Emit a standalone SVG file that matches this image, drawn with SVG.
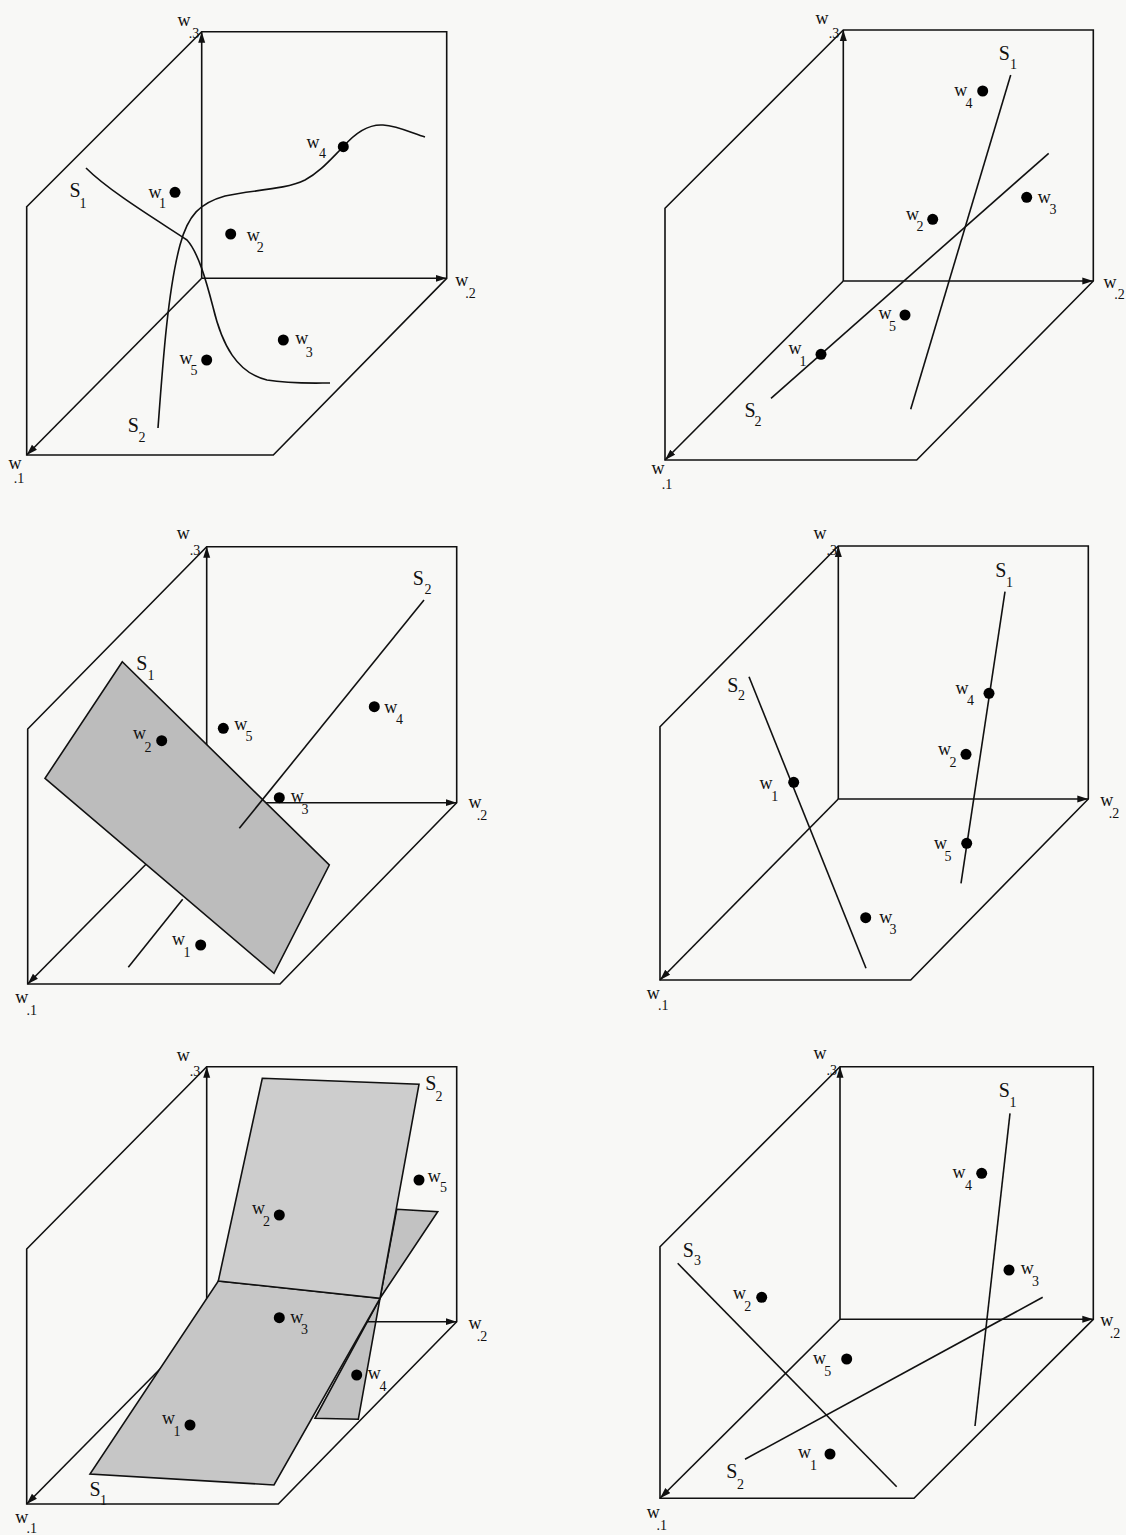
<svg xmlns="http://www.w3.org/2000/svg" width="1126" height="1535" viewBox="0 0 1126 1535">
<style>
.ln{fill:none;stroke:#111;stroke-width:1.6;stroke-linejoin:miter}
.ax{fill:none;stroke:#111;stroke-width:1.6;marker-end:url(#ah)}
.pl{stroke:#111;stroke-width:1.6;stroke-linejoin:miter}
.dot{fill:#000}
text{font-family:"Liberation Serif","Times New Roman",serif;fill:#111;text-anchor:middle}
.w{font-size:18px}
.S{font-size:20px}
.s{font-size:14px}
</style>
<defs>
<marker id="ah" markerWidth="12" markerHeight="8" refX="11" refY="4" orient="auto" markerUnits="userSpaceOnUse"><path d="M0,0.5 L11,4 L0,7.5 z" fill="#111"/></marker>
</defs>
<rect width="1126" height="1535" fill="#f8f8f6"/>

<!-- Panel 1 -->
<g id="panel1">
  <g id="p1-frame">
    <polygon class="ln" points="26.7,206.7 201.7,31.7 446.7,31.7 446.7,278.3 273.3,455 26.7,455"/>
    <g id="p1-axes">
      <line class="ax" x1="201.7" y1="278.3" x2="201.7" y2="31.7"/>
      <line class="ax" x1="201.7" y1="278.3" x2="446.7" y2="278.3"/>
      <line class="ax" x1="201.7" y1="278.3" x2="26.7" y2="455"/>
    </g>
    <text class="w" x="184" y="25.5">w<tspan class="s" x="194" y="37.8">.3</tspan></text>
    <text class="w" x="461.7" y="285.9">w<tspan class="s" x="470.5" y="298">.2</tspan></text>
    <text class="w" x="15" y="469.2">w<tspan class="s" x="19" y="483">.1</tspan></text>
  </g>
  <g id="p1-connectors">
    <path class="ln" d="M86,168 C110,192 160,222 187,240 C198,252 206,280 213,307 C222,345 237,373 267,380 C290,384 315,383 330,383"/>
    <path class="ln" d="M158,428 C163,360 168,290 180,245 C188,215 200,203 225,196 C250,190 285,190 305,180 C320,172 330,160 343,147 C355,133 368,124 383,125 C398,126 412,133 425,137"/>
    <text class="S" x="75" y="196.5">S<tspan class="s" x="83" y="208">1</tspan></text>
    <text class="S" x="133.3" y="431.5">S<tspan class="s" x="142" y="441.5">2</tspan></text>
  </g>
  <g id="p1-w1"><circle class="dot" cx="175" cy="192.3" r="5.5"/><text class="w" x="155" y="197.5">w<tspan class="s" x="162.5" y="208">1</tspan></text></g>
  <g id="p1-w2"><circle class="dot" cx="230.7" cy="234" r="5.5"/><text class="w" x="253.3" y="240.9">w<tspan class="s" x="260.3" y="251.5">2</tspan></text></g>
  <g id="p1-w3"><circle class="dot" cx="283.3" cy="340" r="5.5"/><text class="w" x="301.7" y="344.2">w<tspan class="s" x="309.3" y="356.5">3</tspan></text></g>
  <g id="p1-w4"><circle class="dot" cx="343.3" cy="146.7" r="5.5"/><text class="w" x="313" y="147.5">w<tspan class="s" x="322.5" y="158">4</tspan></text></g>
  <g id="p1-w5"><circle class="dot" cx="206.7" cy="360" r="5.5"/><text class="w" x="186" y="364.2">w<tspan class="s" x="194" y="374.7">5</tspan></text></g>
</g>

<!-- Panel 2 -->
<g id="panel2">
  <g id="p2-frame">
    <polygon class="ln" points="665,208.3 843.3,30 1093.3,30 1093.3,281 916.7,460 665,460"/>
    <g id="p2-axes">
      <line class="ax" x1="843.3" y1="281" x2="843.3" y2="30"/>
      <line class="ax" x1="843.3" y1="281" x2="1093.3" y2="281"/>
      <line class="ax" x1="843.3" y1="281" x2="665" y2="460"/>
    </g>
    <text class="w" x="822" y="24">w<tspan class="s" x="834" y="37.5">.3</tspan></text>
    <text class="w" x="1110" y="287.5">w<tspan class="s" x="1119.5" y="298.6">.2</tspan></text>
    <text class="w" x="658" y="474.2">w<tspan class="s" x="667" y="488.6">.1</tspan></text>
  </g>
  <g id="p2-connectors">
    <line class="ln" x1="1010.7" y1="75" x2="910.7" y2="409.3"/>
    <line class="ln" x1="771" y1="398.3" x2="1048.7" y2="153.3"/>
    <text class="S" x="1004.3" y="59.8">S<tspan class="s" x="1013.5" y="69">1</tspan></text>
    <text class="S" x="750" y="416.5">S<tspan class="s" x="758" y="426.3">2</tspan></text>
  </g>
  <g id="p2-w1"><circle class="dot" cx="821" cy="354.3" r="5.5"/><text class="w" x="795" y="354.2">w<tspan class="s" x="803" y="366.3">1</tspan></text></g>
  <g id="p2-w2"><circle class="dot" cx="932.7" cy="219.3" r="5.5"/><text class="w" x="912.5" y="220.2">w<tspan class="s" x="920" y="230.6">2</tspan></text></g>
  <g id="p2-w3"><circle class="dot" cx="1026.7" cy="197.3" r="5.5"/><text class="w" x="1044.3" y="202.5">w<tspan class="s" x="1053" y="214">3</tspan></text></g>
  <g id="p2-w4"><circle class="dot" cx="982.7" cy="91" r="5.5"/><text class="w" x="960.7" y="95.9">w<tspan class="s" x="969" y="108">4</tspan></text></g>
  <g id="p2-w5"><circle class="dot" cx="905" cy="315" r="5.5"/><text class="w" x="885" y="318.5">w<tspan class="s" x="892.5" y="330.6">5</tspan></text></g>
</g>

<!-- Panel 3 -->
<g id="panel3">
  <g id="p3-frame">
    <polygon class="ln" points="27.7,729 206.7,546.7 456.7,546.7 456.7,802.7 280,984 27.7,984"/>
    <g id="p3-axes">
      <line class="ax" x1="206.7" y1="802.7" x2="206.7" y2="546.7"/>
      <line class="ax" x1="206.7" y1="802.7" x2="456.7" y2="802.7"/>
      <line class="ax" x1="206.7" y1="802.7" x2="27.7" y2="984"/>
    </g>
    <text class="w" x="183.3" y="539.2">w<tspan class="s" x="195" y="554.6">.3</tspan></text>
    <text class="w" x="475" y="807.5">w<tspan class="s" x="482" y="819.6">.2</tspan></text>
    <text class="w" x="21.7" y="1002.5">w<tspan class="s" x="31.7" y="1014.6">.1</tspan></text>
  </g>
  <g id="p3-S1">
    <polygon class="pl" fill="#bcbcbc" points="122.3,661.7 329.3,865 274,973.3 45,778.3"/>
    <text class="S" x="141.7" y="669.8">S<tspan class="s" x="151" y="680.3">1</tspan></text>
  </g>
  <g id="p3-connectors">
    <line class="ln" x1="424" y1="600" x2="239.3" y2="828.3"/>
    <line class="ln" x1="182.7" y1="899.3" x2="128.3" y2="967.3"/>
    <text class="S" x="418.3" y="584.8">S<tspan class="s" x="428" y="593.9">2</tspan></text>
  </g>
  <g id="p3-w1"><circle class="dot" cx="200.7" cy="945" r="5.5"/><text class="w" x="178.5" y="944.9">w<tspan class="s" x="187" y="957.3">1</tspan></text></g>
  <g id="p3-w2"><circle class="dot" cx="161.7" cy="740.7" r="5.5"/><text class="w" x="139.5" y="739.2">w<tspan class="s" x="148" y="751.9">2</tspan></text></g>
  <g id="p3-w3"><circle class="dot" cx="279.3" cy="797.7" r="5.5"/><text class="w" x="297.3" y="801.9">w<tspan class="s" x="305" y="813.9">3</tspan></text></g>
  <g id="p3-w4"><circle class="dot" cx="374.3" cy="706.7" r="5.5"/><text class="w" x="390.7" y="712.5">w<tspan class="s" x="399.5" y="723.9">4</tspan></text></g>
  <g id="p3-w5"><circle class="dot" cx="223.3" cy="728.3" r="5.5"/><text class="w" x="240.7" y="730.2">w<tspan class="s" x="249" y="740.6">5</tspan></text></g>
</g>

<!-- Panel 4 -->
<g id="panel4">
  <g id="p4-frame">
    <polygon class="ln" points="660,726.7 838.3,546 1088.3,546 1088.3,799 910.7,980 660,980"/>
    <g id="p4-axes">
      <line class="ax" x1="838.3" y1="799" x2="838.3" y2="546"/>
      <line class="ax" x1="838.3" y1="799" x2="1088.3" y2="799"/>
      <line class="ax" x1="838.3" y1="799" x2="660" y2="980"/>
    </g>
    <text class="w" x="820" y="539.2">w<tspan class="s" x="831.7" y="554.6">.3</tspan></text>
    <text class="w" x="1106.7" y="805.9">w<tspan class="s" x="1114" y="817.9">.2</tspan></text>
    <text class="w" x="653.3" y="999.2">w<tspan class="s" x="663.3" y="1010">.1</tspan></text>
  </g>
  <g id="p4-connectors">
    <line class="ln" x1="1005" y1="591.7" x2="961" y2="883.3"/>
    <line class="ln" x1="749" y1="676.7" x2="866" y2="968.3"/>
    <text class="S" x="1000.7" y="577.2">S<tspan class="s" x="1009.5" y="587.3">1</tspan></text>
    <text class="S" x="732.7" y="691.5">S<tspan class="s" x="741.5" y="700.3">2</tspan></text>
  </g>
  <g id="p4-w1"><circle class="dot" cx="793.7" cy="782.3" r="5.5"/><text class="w" x="766" y="788.5">w<tspan class="s" x="774.8" y="800.6">1</tspan></text></g>
  <g id="p4-w2"><circle class="dot" cx="966" cy="754.3" r="5.5"/><text class="w" x="944.5" y="755.2">w<tspan class="s" x="953" y="766.9">2</tspan></text></g>
  <g id="p4-w3"><circle class="dot" cx="865.7" cy="917.7" r="5.5"/><text class="w" x="885.7" y="922.5">w<tspan class="s" x="893" y="933.9">3</tspan></text></g>
  <g id="p4-w4"><circle class="dot" cx="989" cy="693.3" r="5.5"/><text class="w" x="962" y="693.5">w<tspan class="s" x="970.5" y="705.3">4</tspan></text></g>
  <g id="p4-w5"><circle class="dot" cx="966.7" cy="843.3" r="5.5"/><text class="w" x="940.5" y="849.2">w<tspan class="s" x="948" y="860.6">5</tspan></text></g>
</g>

<!-- Panel 5 -->
<g id="panel5">
  <g id="p5-frame">
    <polygon class="ln" points="26.7,1249 206.7,1066.7 456.7,1066.7 456.7,1321.7 278.3,1504 26.7,1504"/>
  </g>
  <g id="p5-back">
    <polygon class="pl" fill="#c2c2c2" points="396.7,1209.3 437.7,1211.7 380,1298.3"/>
    <polygon class="pl" fill="#c2c2c2" points="380,1298.3 315,1418.3 358.3,1419.3"/>
  </g>
  <g id="p5-axes">
    <line class="ax" x1="206.7" y1="1321.7" x2="206.7" y2="1066.7"/>
    <line class="ax" x1="206.7" y1="1321.7" x2="456.7" y2="1321.7"/>
    <line class="ax" x1="206.7" y1="1321.7" x2="26.7" y2="1504"/>
  </g>
  <g id="p5-S1">
    <polygon class="pl" fill="#c6c6c6" points="218.3,1281 380,1298.3 274,1485 90,1474"/>
    <text class="S" x="95" y="1495.8">S<tspan class="s" x="103.5" y="1504.6">1</tspan></text>
  </g>
  <g id="p5-S2">
    <polygon class="pl" fill="#cdcdcd" points="262.3,1078.3 419,1084.3 380,1298.3 218.3,1281"/>
    <text class="S" x="430.7" y="1089.8">S<tspan class="s" x="439" y="1101.3">2</tspan></text>
  </g>
  <text class="w" x="183.3" y="1060.9">w<tspan class="s" x="195" y="1076.3">.3</tspan></text>
  <text class="w" x="475" y="1329.2">w<tspan class="s" x="482" y="1341.3">.2</tspan></text>
  <text class="w" x="21.7" y="1523">w<tspan class="s" x="31.7" y="1533">.1</tspan></text>
  <g id="p5-w1"><circle class="dot" cx="190" cy="1425" r="5.5"/><text class="w" x="168.5" y="1424.2">w<tspan class="s" x="177" y="1436.3">1</tspan></text></g>
  <g id="p5-w2"><circle class="dot" cx="279.3" cy="1215" r="5.5"/><text class="w" x="258.5" y="1213.5">w<tspan class="s" x="266.5" y="1226.3">2</tspan></text></g>
  <g id="p5-w3"><circle class="dot" cx="279.3" cy="1317.7" r="5.5"/><text class="w" x="296.7" y="1322.5">w<tspan class="s" x="304.5" y="1333.9">3</tspan></text></g>
  <g id="p5-w4"><circle class="dot" cx="356.7" cy="1375" r="5.5"/><text class="w" x="374.3" y="1378.5">w<tspan class="s" x="383" y="1390.6">4</tspan></text></g>
  <g id="p5-w5"><circle class="dot" cx="419" cy="1180" r="5.5"/><text class="w" x="434.3" y="1181.5">w<tspan class="s" x="443.5" y="1192.3">5</tspan></text></g>
</g>

<!-- Panel 6 -->
<g id="panel6">
  <g id="p6-frame">
    <polygon class="ln" points="660,1246.7 840,1066.7 1093.3,1066.7 1093.3,1319.3 914,1498.3 660,1498.3"/>
    <g id="p6-axes">
      <line class="ax" x1="840" y1="1319.3" x2="840" y2="1066.7"/>
      <line class="ax" x1="840" y1="1319.3" x2="1093.3" y2="1319.3"/>
      <line class="ax" x1="840" y1="1319.3" x2="660" y2="1498.3"/>
    </g>
    <text class="w" x="820" y="1059.2">w<tspan class="s" x="831.7" y="1074.6">.3</tspan></text>
    <text class="w" x="1106.7" y="1325.9">w<tspan class="s" x="1115" y="1337.9">.2</tspan></text>
    <text class="w" x="653.3" y="1517.5">w<tspan class="s" x="661.7" y="1529.6">.1</tspan></text>
  </g>
  <g id="p6-connectors">
    <line class="ln" x1="1010" y1="1113.3" x2="975" y2="1426"/>
    <line class="ln" x1="677.7" y1="1263.3" x2="896.7" y2="1486.7"/>
    <line class="ln" x1="745" y1="1459.3" x2="1042.7" y2="1297.3"/>
    <text class="S" x="1004.3" y="1097.2">S<tspan class="s" x="1013" y="1107.3">1</tspan></text>
    <text class="S" x="731.7" y="1478.2">S<tspan class="s" x="740.5" y="1488.6">2</tspan></text>
    <text class="S" x="688.3" y="1256.5">S<tspan class="s" x="697.5" y="1265.3">3</tspan></text>
  </g>
  <g id="p6-w1"><circle class="dot" cx="830" cy="1454" r="5.5"/><text class="w" x="804.5" y="1458.2">w<tspan class="s" x="813.5" y="1469.6">1</tspan></text></g>
  <g id="p6-w2"><circle class="dot" cx="761.7" cy="1297.3" r="5.5"/><text class="w" x="739.5" y="1298.5">w<tspan class="s" x="747.8" y="1310.6">2</tspan></text></g>
  <g id="p6-w3"><circle class="dot" cx="1009" cy="1270" r="5.5"/><text class="w" x="1027.3" y="1274.2">w<tspan class="s" x="1035.5" y="1286.3">3</tspan></text></g>
  <g id="p6-w4"><circle class="dot" cx="981.7" cy="1173.3" r="5.5"/><text class="w" x="959" y="1177.5">w<tspan class="s" x="968.5" y="1189.6">4</tspan></text></g>
  <g id="p6-w5"><circle class="dot" cx="846.7" cy="1359" r="5.5"/><text class="w" x="819.5" y="1363.5">w<tspan class="s" x="827.8" y="1376.3">5</tspan></text></g>
</g>
</svg>
